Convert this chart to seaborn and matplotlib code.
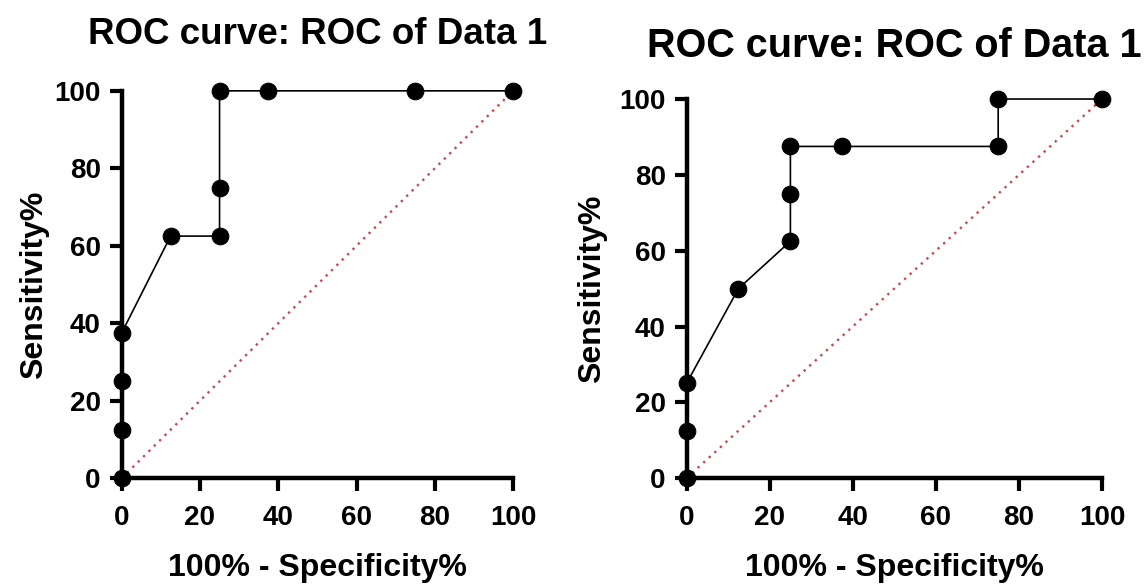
import pandas as pd
import matplotlib.pyplot as plt
import seaborn as sns

# ROC points (100% - Specificity%, Sensitivity%)
left_fpr = [0, 0, 0, 0, 12.5, 25, 25, 25, 37.5, 75, 100]
left_tpr = [0, 12.5, 25, 37.5, 62.5, 62.5, 75, 100, 100, 100, 100]
right_fpr = [0, 0, 0, 12.5, 25, 25, 25, 37.5, 75, 75, 100]
right_tpr = [0, 12.5, 25, 50, 62.5, 75, 87.5, 87.5, 87.5, 100, 100]
chance = [0, 100]
ticks = [0, 20, 40, 60, 80, 100]
title = "ROC curve: ROC of Data 1"

sns.set_style("white")
plt.rcParams["font.family"] = ["Liberation Sans", "DejaVu Sans"]
plt.rcParams["font.weight"] = "bold"
plt.rcParams["text.color"] = "black"
plt.rcParams["axes.labelcolor"] = "black"
plt.rcParams["xtick.color"] = "black"
plt.rcParams["ytick.color"] = "black"

fig = plt.figure(figsize=(11.48, 5.86), dpi=100)
ax1 = fig.add_axes([0.106, 0.184, 0.341, 0.661])
ax2 = fig.add_axes([0.598, 0.184, 0.362, 0.647])

panels = [(ax1, left_fpr, left_tpr, 26.5, 34, 4),
          (ax2, right_fpr, right_tpr, 28.5, 30, 9)]
for ax, fpr, tpr, tsize, tpad, ypad in panels:
    df = pd.DataFrame({"fpr": fpr, "tpr": tpr})
    diag = pd.DataFrame({"x": chance, "y": chance})
    sns.lineplot(data=diag, x="x", y="y", ax=ax, color="#c8484c",
                 linestyle=(0, (1, 2.2)), linewidth=1.7)
    sns.lineplot(data=df, x="fpr", y="tpr", ax=ax, sort=False, estimator=None,
                 color="black", linewidth=1.2, marker="o", markersize=12,
                 markeredgecolor="black")
    for ln in ax.lines:
        ln.set_clip_on(False)
    ax.set_xlim(0, 100)
    ax.set_ylim(0, 100)
    ax.set_xticks(ticks)
    ax.set_yticks(ticks)
    ax.tick_params(axis="both", labelsize=20, width=3, length=9,
                   direction="out", pad=6, left=True, bottom=True)
    ax.tick_params(axis="x", pad=10)
    for lab in ax.get_xticklabels() + ax.get_yticklabels():
        lab.set_fontweight("bold")
    for side in ["top", "right"]:
        ax.spines[side].set_visible(False)
    for side in ["left", "bottom"]:
        ax.spines[side].set_linewidth(3.2)
        ax.spines[side].set_color("black")
    ax.set_xlabel("100% - Specificity%", fontsize=23, fontweight="bold", labelpad=16)
    ax.set_ylabel("Sensitivity%", fontsize=23, fontweight="bold", labelpad=ypad)
    ax.set_title(title, fontsize=tsize, fontweight="bold", pad=tpad)

plt.savefig("out.png", dpi=100)
